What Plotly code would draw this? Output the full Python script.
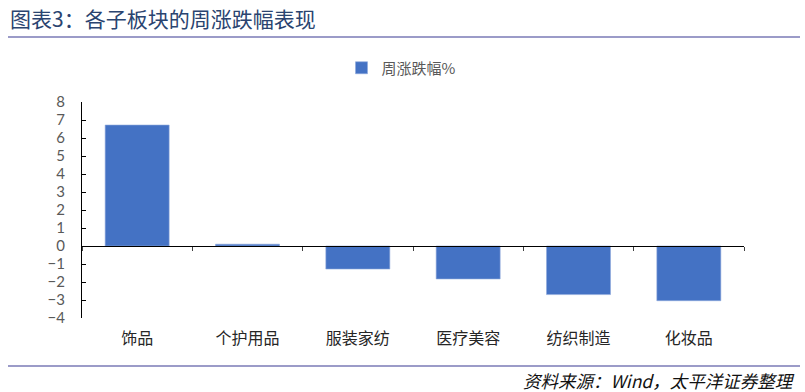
import plotly.graph_objects as go

categories = ["饰品", "个护用品", "服装家纺", "医疗美容", "纺织制造", "化妆品"]
values = [6.72, 0.10, -1.28, -1.83, -2.70, -3.04]
series_name = "周涨跌幅%"
y_ticks = list(range(-4, 9))

CJK = "Noto Sans CJK SC"
L, R, T, B = 82, 61, 102, 74
W, H = 805, 392
pw, ph = W - L - R, H - T - B

def px_x(x):
    return (x - L) / pw

def px_y(y):
    return (H - B - y) / ph

fig = go.Figure()
fig.add_trace(go.Bar(
    x=list(range(len(categories))), y=values, name=series_name,
    marker=dict(color="#4472C4", line=dict(color="#8FAADC", width=0.6)),
    hoverinfo="x+y",
))
# invisible trace to hold the zero-crossing axis
fig.add_trace(go.Scatter(x=[-0.5, len(categories) - 0.5], y=[0, 0], xaxis="x2",
                         mode="lines", line=dict(width=0), showlegend=False,
                         hoverinfo="skip"))

rng = [-0.5, len(categories) - 0.5]
fig.update_layout(
    width=W, height=H,
    margin=dict(l=L, r=R, t=T, b=B, autoexpand=False),
    paper_bgcolor="white", plot_bgcolor="white",
    bargap=0.42,
    showlegend=True,
    legend=dict(orientation="h", x=px_x(401), xanchor="center", y=px_y(68), yanchor="middle",
                font=dict(family=CJK, size=15, color="#595959"),
                itemwidth=30, bgcolor="rgba(0,0,0,0)"),
    xaxis=dict(range=rng, tickvals=list(range(len(categories))), ticktext=categories,
               showline=False, ticks="", showgrid=False, zeroline=False,
               tickfont=dict(family=CJK, size=16, color="#262626"), ticklabelstandoff=9),
    xaxis2=dict(range=rng, overlaying="x", anchor="free", position=4 / 12,
                tickvals=[i - 0.5 for i in range(len(categories) + 1)],
                showticklabels=False, ticks="outside", ticklen=4, tickcolor="#404040",
                showline=True, linecolor="#000000", linewidth=1.3, showgrid=False,
                zeroline=False),
    yaxis=dict(range=[-4, 8], tickvals=y_ticks, showgrid=False, zeroline=False,
               showline=True, linecolor="#000000", linewidth=1.3,
               ticks="inside", ticklen=4, tickcolor="#000000", ticklabelstandoff=13,
               tickfont=dict(family="Lato", size=15, color="#595959")),
    font=dict(family=CJK),
)

fig.add_shape(type="line", xref="paper", yref="paper",
              x0=px_x(8), x1=px_x(800), y0=px_y(37), y1=px_y(37),
              line=dict(color="#9B9BC8", width=2))
fig.add_shape(type="line", xref="paper", yref="paper",
              x0=px_x(8), x1=px_x(800), y0=px_y(366), y1=px_y(366),
              line=dict(color="#9B9BC8", width=2))

fig.add_annotation(text="图表3：各子板块的周涨跌幅表现", xref="paper", yref="paper",
                   x=px_x(8), y=px_y(18), xanchor="left", yanchor="middle",
                   showarrow=False, font=dict(family=CJK, size=21, color="#2A4470"))
fig.add_annotation(text="资料来源：Wind，太平洋证券整理", xref="paper", yref="paper",
                   x=px_x(797), y=px_y(380), xanchor="right", yanchor="middle",
                   showarrow=False,
                   font=dict(family=CJK, size=17.5, color="#111111", style="italic"))

fig.write_html("out.html", config={"displayModeBar": False},
               post_script="document.body.style.margin='0';document.body.style.padding='0';")
